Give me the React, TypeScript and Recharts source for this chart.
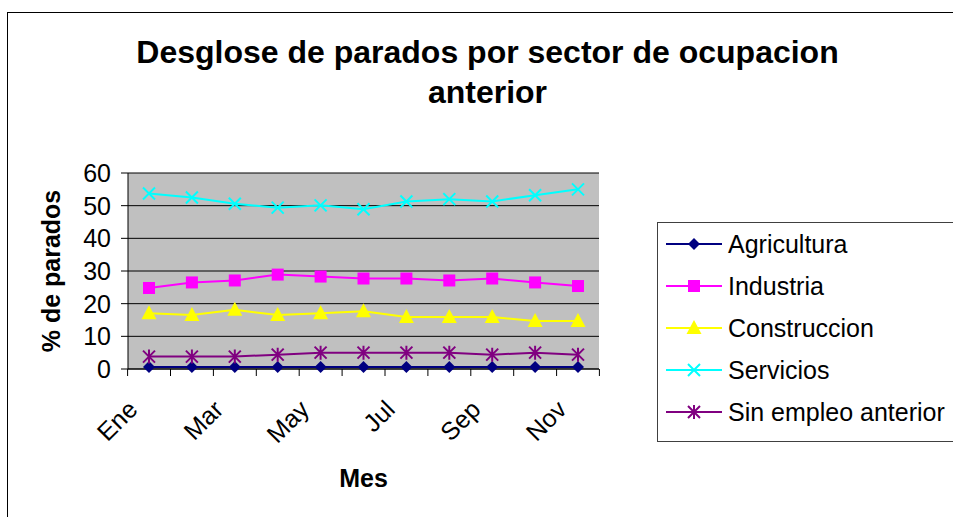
import React from "react";
import { LineChart, Line, XAxis, YAxis, CartesianGrid } from "recharts";

const meses = ["Ene", "Feb", "Mar", "Abr", "May", "Jun", "Jul", "Ago", "Sep", "Oct", "Nov"];
const agricultura = [0.6, 0.6, 0.6, 0.6, 0.6, 0.6, 0.6, 0.6, 0.6, 0.6, 0.6];
const industria = [24.8, 26.5, 27.1, 28.9, 28.3, 27.7, 27.7, 27.1, 27.7, 26.5, 25.4];
const construccion = [17.1, 16.5, 18.1, 16.5, 17.1, 17.7, 15.9, 15.9, 15.9, 14.7, 14.7];
const servicios = [53.7, 52.5, 50.6, 49.4, 50.1, 48.9, 51.3, 52.0, 51.3, 53.2, 55.0];
const sinEmpleo = [3.8, 3.8, 3.8, 4.4, 5.0, 5.0, 5.0, 5.0, 4.4, 5.0, 4.4];
const yTicks = [0, 10, 20, 30, 40, 50, 60];

const datos = meses.map((mes, i) => ({
  mes,
  agricultura: agricultura[i],
  industria: industria[i],
  construccion: construccion[i],
  servicios: servicios[i],
  sinEmpleo: sinEmpleo[i],
}));

const series = [
  { key: "agricultura", nombre: "Agricultura", color: "#000080", forma: "diamond" },
  { key: "industria", nombre: "Industria", color: "#FF00FF", forma: "square" },
  { key: "construccion", nombre: "Construccion", color: "#FFFF00", forma: "triangle" },
  { key: "servicios", nombre: "Servicios", color: "#00FFFF", forma: "x" },
  { key: "sinEmpleo", nombre: "Sin empleo anterior", color: "#800080", forma: "star" },
];

const fuente = "'Liberation Sans', Arial, sans-serif";

function Marca({ cx, cy, forma, color }: { cx: number; cy: number; forma: string; color: string }) {
  if (cx == null || cy == null) return null;
  switch (forma) {
    case "diamond":
      return <path d={`M${cx},${cy - 6}L${cx + 6},${cy}L${cx},${cy + 6}L${cx - 6},${cy}Z`} fill={color} />;
    case "square":
      return <rect x={cx - 6} y={cy - 6} width={12} height={12} fill={color} />;
    case "triangle":
      return <path d={`M${cx},${cy - 8}L${cx + 7.5},${cy + 6}L${cx - 7.5},${cy + 6}Z`} fill={color} />;
    case "x":
      return (
        <path d={`M${cx - 6},${cy - 6}L${cx + 6},${cy + 6}M${cx - 6},${cy + 6}L${cx + 6},${cy - 6}`} stroke={color} strokeWidth={2} />
      );
    default:
      return (
        <path
          d={`M${cx - 6},${cy - 6}L${cx + 6},${cy + 6}M${cx - 6},${cy + 6}L${cx + 6},${cy - 6}M${cx},${cy - 7}L${cx},${cy + 7}`}
          stroke={color}
          strokeWidth={2}
        />
      );
  }
}

// ticks entre categorias, etiqueta solo en los meses impares
const medio = 21.4;
function TickMes(props: any) {
  const { x, y, payload, index } = props;
  return (
    <g>
      <line x1={x - medio} y1={y - 8} x2={x - medio} y2={y - 1} stroke="#000" />
      {index === meses.length - 1 && <line x1={x + medio} y1={y - 8} x2={x + medio} y2={y - 1} stroke="#000" />}
      {index % 2 === 0 && (
        <text
          x={x - 10}
          y={y + 34}
          textAnchor="end"
          transform={`rotate(-45 ${x - 10} ${y + 34})`}
          fontSize={25}
          fontFamily={fuente}
          fill="#000"
        >
          {payload.value}
        </text>
      )}
    </g>
  );
}

function Leyenda() {
  return (
    <div
      style={{
        position: "absolute",
        left: 657,
        top: 222,
        border: "1px solid #404040",
        background: "#fff",
        width: 310,
        height: 220,
        boxSizing: "border-box",
        padding: "0 0 0 8px",
        fontFamily: fuente,
        fontSize: 25,
      }}
    >
      {series.map((s) => (
        <div key={s.key} style={{ height: 42, display: "flex", alignItems: "center" }}>
          <svg width={62} height={20}>
            <line x1={0} y1={10} x2={56} y2={10} stroke={s.color} strokeWidth={2} />
            <Marca cx={28} cy={10} forma={s.forma} color={s.color} />
          </svg>
          <span style={{ color: "#000", lineHeight: "42px" }}>{s.nombre}</span>
        </div>
      ))}
    </div>
  );
}

export default function App() {
  return (
    <div style={{ position: "absolute", left: 0, top: 0, width: 953, height: 517, overflow: "hidden", background: "#fff" }}>
      <div style={{ position: "absolute", left: 7, top: 12, width: 960, height: 520, border: "1px solid #000" }} />
      <div
        style={{
          position: "absolute",
          left: 0,
          width: 975,
          top: 32,
          textAlign: "center",
          fontFamily: fuente,
          fontWeight: "bold",
          fontSize: 32,
          lineHeight: "40px",
        }}
      >
        Desglose de parados por sector de ocupacion
        <br />
        anterior
      </div>
      <div style={{ position: "absolute", left: 0, top: 0 }}>
        <LineChart width={953} height={517} data={datos} margin={{ top: 173, right: 354, left: 48, bottom: 88 }}>
          <CartesianGrid fill="#C0C0C0" stroke="#000" vertical={false} />
          <XAxis
            dataKey="mes"
            interval={0}
            padding={{ left: 21, right: 21 }}
            tickLine={false}
            axisLine={{ stroke: "#000" }}
            height={60}
            tick={<TickMes />}
            label={{
              content: ({ viewBox }: any) => (
                <text
                  x={viewBox.x + viewBox.width / 2}
                  y={487}
                  textAnchor="middle"
                  fontSize={25}
                  fontWeight="bold"
                  fontFamily={fuente}
                  fill="#000"
                >
                  Mes
                </text>
              ),
            }}
          />
          <XAxis xAxisId="arriba" dataKey="mes" orientation="top" height={0} tick={false} tickLine={false} axisLine={{ stroke: "#808080" }} />
          <YAxis
            domain={[0, 60]}
            ticks={yTicks}
            interval={0}
            width={80}
            tickSize={7}
            tickMargin={10}
            tickLine={{ stroke: "#000" }}
            axisLine={{ stroke: "#000" }}
            tick={{ fill: "#000", fontSize: 25, fontFamily: fuente }}
            label={{
              content: ({ viewBox }: any) => (
                <text
                  x={60}
                  y={viewBox.y + viewBox.height / 2}
                  textAnchor="middle"
                  transform={`rotate(-90 60 ${viewBox.y + viewBox.height / 2})`}
                  fontSize={25}
                  fontWeight="bold"
                  fontFamily={fuente}
                  fill="#000"
                >
                  % de parados
                </text>
              ),
            }}
          />
          <YAxis yAxisId="derecha" orientation="right" width={0} domain={[0, 60]} tick={false} tickLine={false} axisLine={{ stroke: "#808080" }} />
          {series.map((s) => (
            <Line
              key={s.key}
              dataKey={s.key}
              name={s.nombre}
              stroke={s.color}
              strokeWidth={2}
              isAnimationActive={false}
              dot={(p: any) => <Marca key={`${s.key}-${p.index}`} cx={p.cx} cy={p.cy} forma={s.forma} color={s.color} />}
              activeDot={false}
            />
          ))}
        </LineChart>
      </div>
      <Leyenda />
    </div>
  );
}
